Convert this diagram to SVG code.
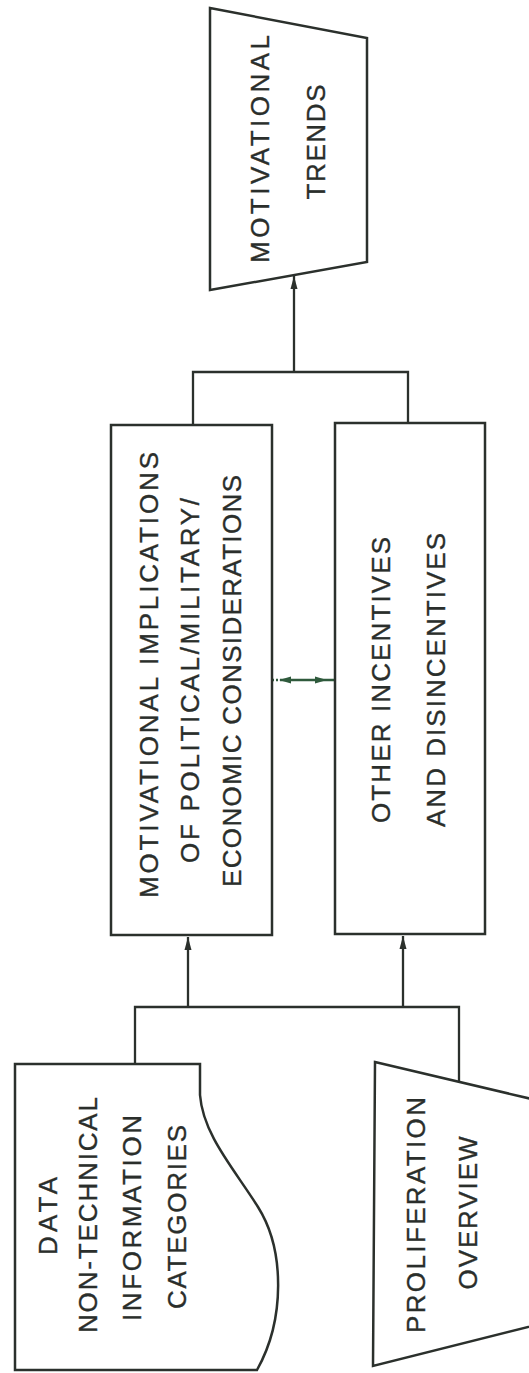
<svg xmlns="http://www.w3.org/2000/svg" width="529" height="1373" viewBox="0 0 529 1373">
<style>
.shape{fill:#ffffff;stroke:#2b302c;stroke-width:2.5;stroke-linejoin:miter}
.conn{fill:none;stroke:#2b302c;stroke-width:2.3}
.lbl{font-family:"Liberation Sans",Arial,sans-serif;font-size:26px;fill:#2a2e2b;stroke:#2a2e2b;stroke-width:0.35;text-anchor:middle}
.green{stroke:#2f5a3c}
</style>
<defs>
<marker id="ah" markerUnits="userSpaceOnUse" markerWidth="16" markerHeight="10" refX="0" refY="0" viewBox="-14 -5 16 10" orient="auto">
<path d="M0,0 L-13,-3.5 L-13,3.5 Z" fill="#2b302c"/>
</marker>
</defs>
<rect width="529" height="1373" fill="#ffffff"/>

<g id="connectors">
<path class="conn" d="M193,425 V372 H408 V423"/>
<path class="conn" d="M294,372 V276" marker-end="url(#ah)"/>
<path class="conn" d="M135,1064 V1007 H459 V1082"/>
<path class="conn" d="M188,1007 V937" marker-end="url(#ah)"/>
<path class="conn" d="M403,1007 V936" marker-end="url(#ah)"/>
<path class="conn green" d="M272,680 H281" stroke-dasharray="2,2"/>
<path class="conn green" d="M281,680 H335"/>
<polygon points="279,680 291,676.5 291,683.5" fill="#2f5a3c"/>
<polygon points="327,680 315,676.5 315,683.5" fill="#2f5a3c"/>
</g>

<g id="motivational-trends">
<polygon class="shape" points="210,8 367,38 367,262 210,290"/>
<text class="lbl" transform="translate(268.5,149) rotate(-90)" textLength="228" lengthAdjust="spacing">MOTIVATIONAL</text>
<text class="lbl" transform="translate(324.5,142) rotate(-90)" textLength="115" lengthAdjust="spacing">TRENDS</text>
</g>

<g id="motivational-implications">
<rect class="shape" x="111" y="425" width="161" height="510"/>
<text class="lbl" transform="translate(157.5,675) rotate(-90)" textLength="446" lengthAdjust="spacing">MOTIVATIONAL  IMPLICATIONS</text>
<text class="lbl" transform="translate(198.5,680.5) rotate(-90)" textLength="365" lengthAdjust="spacing">OF POLITICAL/MILITARY/</text>
<text class="lbl" transform="translate(241,681) rotate(-90)" textLength="412" lengthAdjust="spacing">ECONOMIC CONSIDERATIONS</text>
</g>

<g id="other-incentives">
<rect class="shape" x="335" y="423" width="150" height="511"/>
<text class="lbl" transform="translate(390,680) rotate(-90)" textLength="286" lengthAdjust="spacing">OTHER INCENTIVES</text>
<text class="lbl" transform="translate(445,680) rotate(-90)" textLength="294" lengthAdjust="spacing">AND DISINCENTIVES</text>
</g>

<g id="data-categories">
<path class="shape" d="M15,1064 H200 L200,1095 C203,1135 235,1170 258,1207 C285,1250 285,1320 257,1370 H15 Z"/>
<text class="lbl" transform="translate(56.5,1216) rotate(-90)" textLength="78" lengthAdjust="spacing">DATA</text>
<text class="lbl" transform="translate(97,1215) rotate(-90)" textLength="236" lengthAdjust="spacing">NON-TECHNICAL</text>
<text class="lbl" transform="translate(140.5,1218) rotate(-90)" textLength="206" lengthAdjust="spacing">INFORMATION</text>
<text class="lbl" transform="translate(185.5,1217) rotate(-90)" textLength="184" lengthAdjust="spacing">CATEGORIES</text>
</g>

<g id="proliferation-overview">
<polygon class="shape" points="375,1062 540,1101 540,1324 373,1366"/>
<text class="lbl" transform="translate(424.5,1215) rotate(-90)" textLength="236" lengthAdjust="spacing">PROLIFERATION</text>
<text class="lbl" transform="translate(476.5,1213) rotate(-90)" textLength="153" lengthAdjust="spacing">OVERVIEW</text>
</g>
</svg>
